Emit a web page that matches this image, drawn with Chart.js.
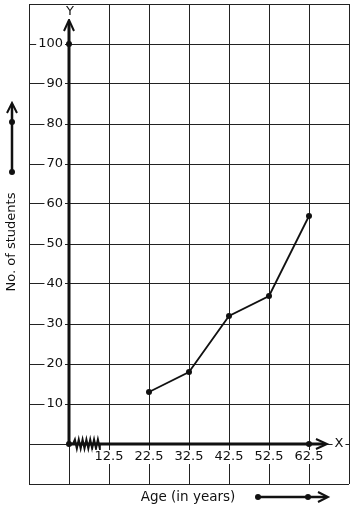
<!DOCTYPE html>
<html>
<head>
<meta charset="utf-8">
<script src="https://cdn.jsdelivr.net/npm/chart.js@4"></script>
<style>
  body { margin: 0; background: #fff; }
  #ogive { display: block; }
</style>
</head>
<body>
<canvas id="ogive" width="354" height="510"></canvas>
<script>
// data
const ageGroups = [22.5, 32.5, 42.5, 52.5, 62.5];
const studentCounts = [13, 18, 32, 37, 57];

const xTickLabels = [12.5, 22.5, 32.5, 42.5, 52.5, 62.5];
const yTickLabels = [10, 20, 30, 40, 50, 60, 70, 80, 90, 100];

// graph paper lines (one square = 10 units)
const xGrid = [-7.5, 2.5, 12.5, 22.5, 32.5, 42.5, 52.5, 62.5, 72.5];
const yGrid = [-10, 0, 10, 20, 30, 40, 50, 60, 70, 80, 90, 100, 110];

const originX = 2.5;
const originY = 0;

const FONT = "DejaVu Sans";
const INK = "#111";

function dot(c, x, y, r) {
    c.beginPath();
    c.arc(x, y, r, 0, Math.PI * 2);
    c.fill();
}

function textBox(c, txt, x, y, align) {
    const w = c.measureText(txt).width;
    let left = x - w / 2;
    if (align === "right") left = x - w;
    c.fillStyle = "#fff";
    c.fillRect(left - 2, y - 7, w + 4, 14);
    c.fillStyle = INK;
    c.textAlign = align;
    c.fillText(txt, x, y);
}

const axesPlugin = {
    id: "axesPlugin",
    afterDraw(chart) {
        const c = chart.ctx;
        const xs = chart.scales.x, ys = chart.scales.y;
        const ox = xs.getPixelForValue(originX);
        const oy = ys.getPixelForValue(originY);
        const yTop = ys.getPixelForValue(106);
        const xEnd = xs.getPixelForValue(67);
        c.save();
        c.strokeStyle = INK;
        c.fillStyle = INK;
        c.lineCap = "butt";

        // main axes
        c.lineWidth = 3;
        c.beginPath();
        c.moveTo(ox, oy);
        c.lineTo(ox, yTop + 2);
        c.moveTo(ox, oy);
        c.lineTo(xEnd - 2, oy);
        c.stroke();

        // arrow heads
        c.lineWidth = 2;
        c.beginPath();
        c.moveTo(ox - 5, yTop + 11);
        c.lineTo(ox, yTop);
        c.lineTo(ox + 5, yTop + 11);
        c.moveTo(xEnd - 11, oy - 5);
        c.lineTo(xEnd, oy);
        c.lineTo(xEnd - 11, oy + 5);
        c.stroke();

        // kink on the x axis
        const z0 = xs.getPixelForValue(3.5), z1 = xs.getPixelForValue(10.2);
        const teeth = 14;
        c.lineWidth = 2;
        c.beginPath();
        c.moveTo(z0, oy);
        for (let i = 1; i <= teeth; i++) {
            const px = z0 + (z1 - z0) * i / teeth;
            c.lineTo(px, oy + (i % 2 ? -4.5 : 4.5));
        }
        c.lineTo(z1, oy);
        c.stroke();

        dot(c, ox, oy, 3);
        dot(c, ox, ys.getPixelForValue(100), 3);
        dot(c, xs.getPixelForValue(62.5), oy, 3);

        // tick labels
        c.font = "13px '" + FONT + "'";
        c.textBaseline = "middle";
        yTickLabels.forEach(v => {
            textBox(c, String(v), ox - 6, ys.getPixelForValue(v), "right");
        });
        xTickLabels.forEach(v => {
            textBox(c, v.toFixed(1), xs.getPixelForValue(v), oy + 13, "center");
        });
        textBox(c, "Y", ox + 1, ys.getPixelForValue(108), "center");
        textBox(c, "X", xs.getPixelForValue(70), oy, "center");

        // axis titles
        c.fillStyle = INK;
        c.font = "13.5px '" + FONT + "'";
        c.textAlign = "center";
        c.fillText("Age (in years)", 188, 497);

        c.save();
        c.translate(12, 242);
        c.rotate(-Math.PI / 2);
        c.font = "13px '" + FONT + "'";
        c.fillText("No. of students", 0, 0);
        c.restore();

        // direction arrows next to the titles
        c.lineWidth = 2.5;
        c.beginPath();
        c.moveTo(258, 497);
        c.lineTo(326, 497);
        c.moveTo(12, 172);
        c.lineTo(12, 105);
        c.stroke();
        c.lineWidth = 2;
        c.beginPath();
        c.moveTo(318, 492);
        c.lineTo(328, 497);
        c.lineTo(318, 502);
        c.moveTo(7, 113);
        c.lineTo(12, 103);
        c.lineTo(17, 113);
        c.stroke();
        dot(c, 258, 497, 3);
        dot(c, 308, 497, 3);
        dot(c, 12, 122, 3);
        dot(c, 12, 172, 3);

        c.restore();
    }
};

new Chart(document.getElementById("ogive"), {
    type: "scatter",
    data: {
        datasets: [{
            data: ageGroups.map((a, i) => ({ x: a, y: studentCounts[i] })),
            showLine: true,
            borderColor: INK,
            borderWidth: 1.8,
            pointRadius: 3,
            pointBackgroundColor: INK,
            pointBorderWidth: 0,
        }],
    },
    options: {
        responsive: false,
        animation: false,
        devicePixelRatio: 1,
        layout: { padding: { left: 29, right: 5, top: 4, bottom: 26 } },
        plugins: {
            legend: { display: false },
            tooltip: { enabled: false },
        },
        scales: {
            x: {
                type: "linear",
                min: -7.5,
                max: 72.5,
                afterBuildTicks: s => { s.ticks = xGrid.map(v => ({ value: v })); },
                ticks: { display: false },
                grid: { color: "#222", lineWidth: 1, drawTicks: false },
                border: { display: false },
            },
            y: {
                type: "linear",
                min: -10,
                max: 110,
                afterBuildTicks: s => { s.ticks = yGrid.map(v => ({ value: v })); },
                ticks: { display: false },
                grid: { color: "#222", lineWidth: 1, drawTicks: false },
                border: { display: false },
            },
        },
    },
    plugins: [axesPlugin],
});
</script>
</body>
</html>
